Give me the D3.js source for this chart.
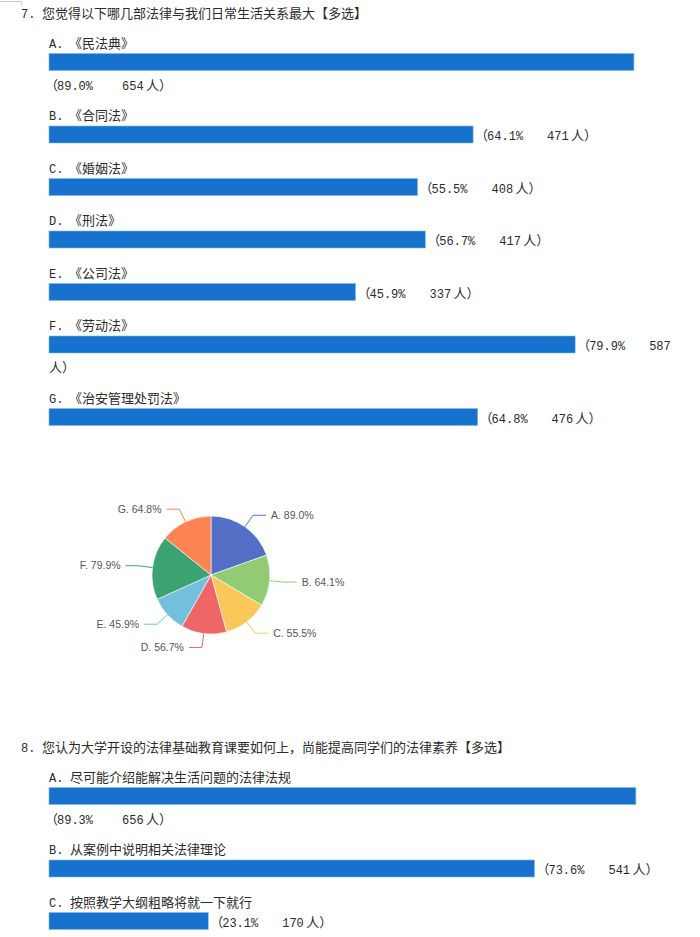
<!DOCTYPE html>
<html>
<head>
<meta charset="utf-8">
<script src="https://cdn.jsdelivr.net/npm/d3@7/dist/d3.min.js"></script>
<style>
	body { margin: 0; background: #fff; }
	.cjk { font-family: "Noto Sans CJK SC", sans-serif; font-size: 13px; fill: #2b2b2b; }
	.lat { font-family: "Liberation Mono", monospace; font-size: 12px; fill: #2b2b2b; }
	.pielabel { font-family: "Liberation Sans", Arial, sans-serif; font-size: 10.5px; fill: #555; }
</style>
</head>
<body>
<div id="chart"></div>
<script>
// question 7
var q7Num = "7.";
var q7Title = "您觉得以下哪几部法律与我们日常生活关系最大【多选】";
var q7Letters = ["A.", "B.", "C.", "D.", "E.", "F.", "G."];
var q7Names = ["《民法典》", "《合同法》", "《婚姻法》", "《刑法》", "《公司法》", "《劳动法》", "《治安管理处罚法》"];
var q7Pct = [89.0, 64.1, 55.5, 56.7, 45.9, 79.9, 64.8];
var q7Count = [654, 471, 408, 417, 337, 587, 476];

// question 8
var q8Num = "8.";
var q8Title = "您认为大学开设的法律基础教育课要如何上，尚能提高同学们的法律素养【多选】";
var q8Letters = ["A.", "B.", "C."];
var q8Names = ["尽可能介绍能解决生活问题的法律法规", "从案例中说明相关法律理论", "按照教学大纲粗略将就一下就行"];
var q8Pct = [89.3, 73.6, 23.1];
var q8Count = [656, 541, 170];

// pie for question 7
var pieLetters = ["A", "B", "C", "D", "E", "F", "G"];
var pieColors = ["#5470c6", "#91cc75", "#fac858", "#ee6666", "#73c0de", "#3ba272", "#fc8452"];

function init(){
	var w = 700;
	var h = 937;
	var barX0 = 49;
	var barH = 17;
	var maxRight = 692;

	var xScale = d3.scaleLinear()
					.domain([0, 100])
					.range([barX0 + 10, barX0 + 656]);

	var svg = d3.select("#chart")
				.append("svg")
				.attr("width", w)
				.attr("height", h);

	//little cell border in the corner
	svg.append("path")
		.attr("d", "M0,1.5H21.5V5")
		.attr("fill", "none")
		.attr("stroke", "#c8c8c8")
		.attr("stroke-width", 1);

	function question(num, title, letters, names, pct, count, top){
		var t = svg.append("text").attr("y", top).attr("dy", "0.35em");
		t.append("tspan").attr("class", "lat").attr("x", 21).text(num);
		t.append("tspan").attr("class", "cjk").attr("x", 42).text(title);

		var y = top + 30;
		for (var i = 0; i < names.length; i++){
			var lab = svg.append("text").attr("y", y).attr("dy", "0.35em");
			lab.append("tspan").attr("class", "lat").attr("x", barX0).text(letters[i]);
			lab.append("tspan").attr("class", "cjk")
				.attr("x", names[i].charAt(0) == "《" ? 69 : 70)
				.text(names[i]);

			var barY = y + 11.5;
			var barEnd = xScale(pct[i]);
			svg.append("rect")
				.attr("x", barX0)
				.attr("y", barY)
				.attr("width", barEnd - barX0)
				.attr("height", barH)
				.attr("fill", "#1672cc")
				.attr("stroke", "#7fb6ea")
				.attr("stroke-width", 0.6);

			var pctX = barEnd + 14;
			var cntX = pctX + 60;
			var midY = barY + barH / 2;
			var belowY = barY + barH + 14;
			var extra = 0;
			var rowY = midY;
			var wrap = false;
			if (cntX + 20 > maxRight){
				//no room at all: whole label under the bar
				pctX = 57;
				cntX = pctX + 65;
				rowY = belowY;
				extra = 20;
			} else if (cntX + 48 > maxRight){
				wrap = true;
				extra = 20;
			}
			var v = svg.append("text").attr("y", rowY).attr("dy", "0.35em");
			v.append("tspan").attr("class", "cjk").attr("x", pctX - 12).text("（");
			v.append("tspan").attr("class", "lat").attr("x", pctX).text(pct[i].toFixed(1) + "%");
			v.append("tspan").attr("class", "lat").attr("x", cntX).text(count[i]);
			if (wrap){
				svg.append("text").attr("class", "cjk")
					.attr("x", barX0).attr("y", belowY).attr("dy", "0.35em")
					.text("人）");
			} else {
				v.append("tspan").attr("class", "cjk").attr("x", cntX + 24).text("人）");
			}
			y += 52.5 + extra;
		}
	}

	question(q7Num, q7Title, q7Letters, q7Names, q7Pct, q7Count, 12);
	question(q8Num, q8Title, q8Letters, q8Names, q8Pct, q8Count, 746);

	//pie
	var cx = 211, cy = 575, r = 59;
	var pie = d3.pie().sort(null).value(function(d){ return d; });
	var arcs = pie(q7Pct);
	var arc = d3.arc().innerRadius(0).outerRadius(r);

	var g = svg.append("g").attr("transform", "translate(" + cx + "," + cy + ")");

	g.selectAll("path.slice")
		.data(arcs)
		.enter()
		.append("path")
		.attr("class", "slice")
		.attr("d", arc)
		.attr("fill", function(d, i){ return pieColors[i]; })
		.attr("stroke", "#fff")
		.attr("stroke-width", 0.6);

	arcs.forEach(function(d, i){
		var a = (d.startAngle + d.endAngle) / 2;
		var s = Math.sin(a), c = -Math.cos(a);
		var p0 = [r * s, r * c];
		var p1 = [(r + 14) * s, (r + 14) * c];
		var dir = s >= 0 ? 1 : -1;
		var p2 = [p1[0] + dir * 13, p1[1]];
		g.append("path")
			.attr("d", d3.line()([p0, p1, p2]))
			.attr("fill", "none")
			.attr("stroke", pieColors[i])
			.attr("stroke-width", 1);
		g.append("text")
			.attr("class", "pielabel")
			.attr("x", p2[0] + dir * 5)
			.attr("y", p2[1])
			.attr("dy", "0.35em")
			.attr("text-anchor", dir > 0 ? "start" : "end")
			.text(pieLetters[i] + ". " + q7Pct[i].toFixed(1) + "%");
	});
}

window.onload = init;
</script>
</body>
</html>
